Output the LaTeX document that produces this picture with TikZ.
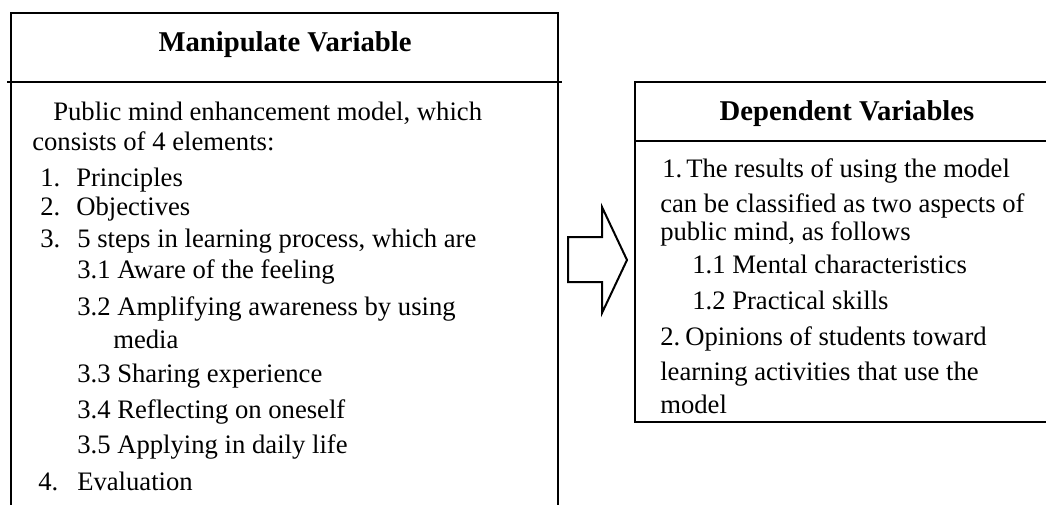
\documentclass[tikz,border=0pt]{standalone}
\usepackage{fontspec}
\setmainfont{Liberation Serif}
\tikzset{
  frame/.style={line width=1.5pt},
  headtext/.style={font=\fontsize{21.5}{24}\selectfont\bfseries, anchor=base, inner sep=0pt},
  txt/.style={font=\fontsize{20}{24}\selectfont, anchor=base west, inner sep=0pt},
  blockarrow/.style={draw, line width=1.5pt, line join=miter, fill=white}
}
\begin{document}
\begin{tikzpicture}[x=0.75pt,y=-0.75pt]
  \clip (0,0) rectangle (1046,504);
  % manipulate variable box
  \draw[frame] (11,13) rectangle (558,530);
  \draw[frame] (7,82) -- (562,82);
  \node[headtext] (mvhead) at (285,51) {Manipulate Variable};
  \node[txt] (mvintro) at (53,120) {Public mind enhancement model, which};
  \node[txt] (mvintrob) at (32,150) {consists of 4 elements:};
  \node[txt] (mvna) at (40,186) {1.};
  \node[txt] (mvea) at (76,186) {Principles};
  \node[txt] (mvnb) at (40,215) {2.};
  \node[txt] (mveb) at (76,215) {Objectives};
  \node[txt] (mvnc) at (40,247) {3.};
  \node[txt] (mvec) at (77,247) {5 steps in learning process, which are};
  \node[txt] (mvsa) at (77,278) {3.1 Aware of the feeling};
  \node[txt] (mvsb) at (77,315) {3.2 Amplifying awareness by using};
  \node[txt] (mvsbb) at (113,348) {media};
  \node[txt] (mvsc) at (77,382) {3.3 Sharing experience};
  \node[txt] (mvsd) at (77,418) {3.4 Reflecting on oneself};
  \node[txt] (mvse) at (77,453) {3.5 Applying in daily life};
  \node[txt] (mvnd) at (38,490) {4.};
  \node[txt] (mved) at (77,490) {Evaluation};
  % dependent variables box
  \draw[frame] (635,82) rectangle (1062,422);
  \draw[frame] (635,141) -- (1062,141);
  \node[headtext] (dvhead) at (847,120) {Dependent Variables};
  \node[txt] (dvna) at (662,177) {1.};
  \node[txt] (dva) at (686,177) {The results of using the model};
  \node[txt] (dvab) at (660,212) {can be classified as two aspects of};
  \node[txt] (dvac) at (660,240) {public mind, as follows};
  \node[txt] (dvsa) at (692,273) {1.1 Mental characteristics};
  \node[txt] (dvsb) at (692,309) {1.2 Practical skills};
  \node[txt] (dvnb) at (660,345) {2.};
  \node[txt] (dvb) at (685,345) {Opinions of students toward};
  \node[txt] (dvbb) at (660,380) {learning activities that use the};
  \node[txt] (dvbc) at (660,413) {model};
  % arrow between the boxes
  \draw[blockarrow] (568,237) -- (602,237) -- (602,207) -- (627,260)
    -- (602,313) -- (602,282) -- (568,282) -- cycle;
\end{tikzpicture}
\end{document}
